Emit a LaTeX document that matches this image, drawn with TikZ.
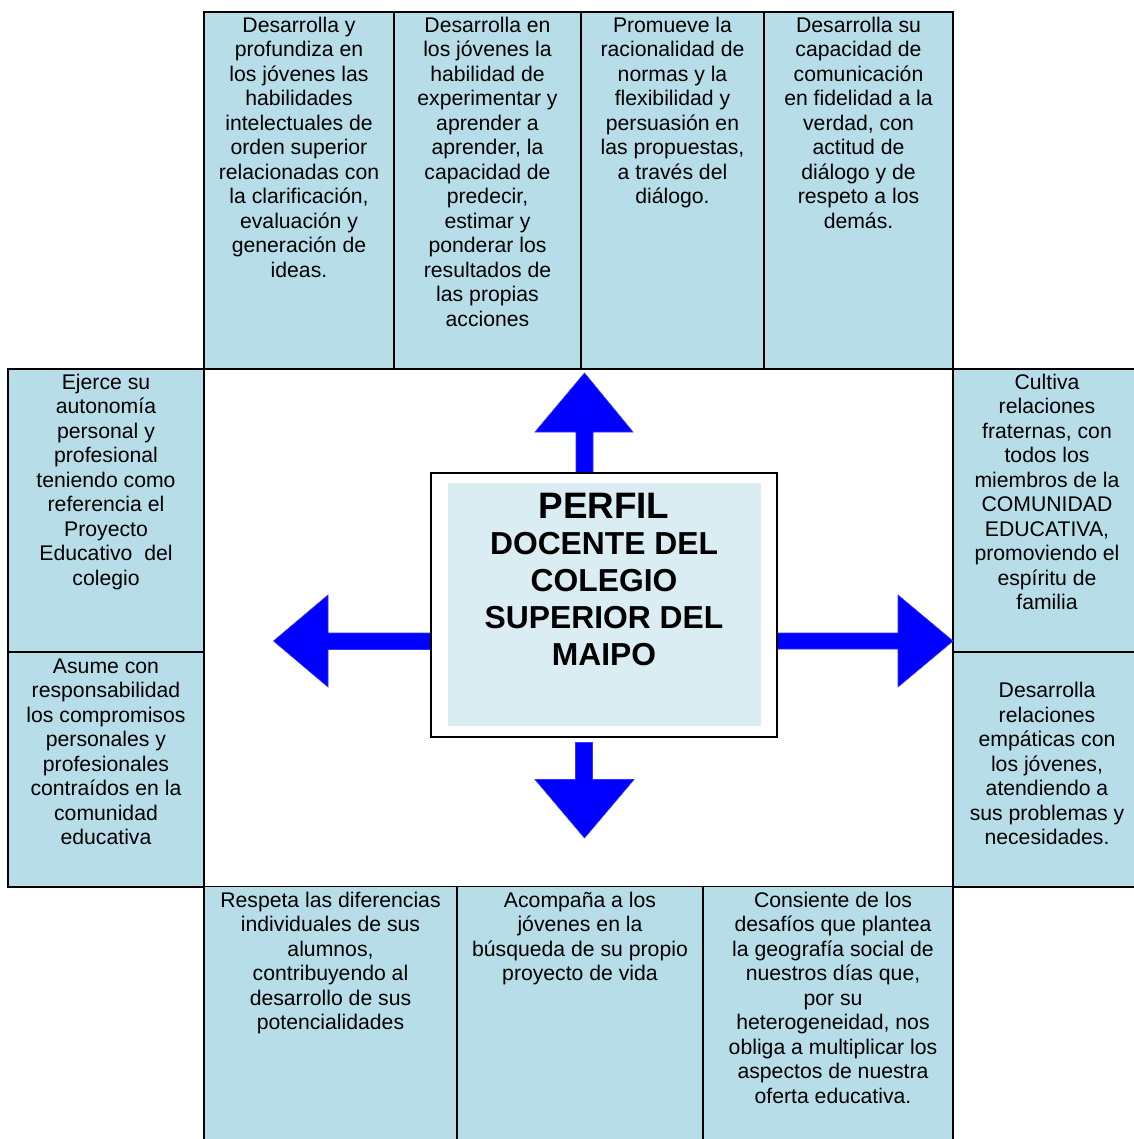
\documentclass[tikz,border=0pt]{standalone}
\usepackage{fontspec}
\setmainfont{Liberation Sans}
\definecolor{cellblue}{HTML}{B7DDE8}
\definecolor{innerblue}{HTML}{DAEDF3}
\definecolor{arrowblue}{HTML}{0000FF}
\newcommand{\firststrut}{\rule{0pt}{17pt}}
\begin{document}
\begin{tikzpicture}[x=1pt,y=-1pt,
  cell/.style={fill=cellblue,draw=black,line width=2pt},
  celltext/.style={anchor=north,align=center,inner sep=0pt,font=\fontsize{21.2}{24.5}\selectfont},
  titletext/.style={anchor=base,align=center,inner sep=0pt,font=\fontsize{31.8}{36.7}\selectfont\bfseries},
  blockarrow/.style={fill=arrowblue,draw=arrowblue!80!white,line width=0.6pt}]
\useasboundingbox (0,0) rectangle (1133,1139);
\fill[white] (0,0) rectangle (1133,1139);
% top row
\draw[cell] (204,12) rectangle (394,369);
\draw[cell] (394,12) rectangle (581,369);
\draw[cell] (581,12) rectangle (764,369);
\draw[cell] (764,12) rectangle (953,369);
% left column
\draw[cell] (8,369) rectangle (204,652);
\draw[cell] (8,652) rectangle (204,887);
% right column
\fill[cellblue] (953,369) rectangle (1140,887);
\draw[line width=2pt] (953,369) -- (1140,369);
\draw[line width=2pt] (953,652) -- (1140,652);
\draw[line width=2pt] (953,887) -- (1140,887);
\draw[line width=2pt] (953,369) -- (953,887);
% middle frame
\draw[line width=2pt] (204,369) -- (953,369);
\draw[line width=2pt] (204,887) -- (953,887);
% bottom row
\fill[cellblue] (204,887) rectangle (953,1145);
\draw[line width=2pt] (204,887) -- (204,1145);
\draw[line width=2pt] (457,887) -- (457,1145);
\draw[line width=2pt] (703,887) -- (703,1145);
\draw[line width=2pt] (953,887) -- (953,1145);

% texts (first baseline = top + 20)
\node[celltext] (t1) at (299,15) {\firststrut Desarrolla y\\profundiza en\\los jóvenes las\\habilidades\\intelectuales de\\orden superior\\relacionadas con\\la clarificación,\\evaluación y\\generación de\\ideas.};
\node[celltext] (t2) at (487.5,15) {\firststrut Desarrolla en\\los jóvenes la\\habilidad de\\experimentar y\\aprender a\\aprender, la\\capacidad de\\predecir,\\estimar y\\ponderar los\\resultados de\\las propias\\acciones};
\node[celltext] (t3) at (672.5,15) {\firststrut Promueve la\\racionalidad de\\normas y la\\flexibilidad y\\persuasión en\\las propuestas,\\a través del\\diálogo.};
\node[celltext] (t4) at (858.5,15) {\firststrut Desarrolla su\\capacidad de\\comunicación\\en fidelidad a la\\verdad, con\\actitud de\\diálogo y de\\respeto a los\\demás.};
\node[celltext] (l1) at (106,372) {\firststrut Ejerce su\\autonomía\\personal y\\profesional\\teniendo como\\referencia el\\Proyecto\\Educativo\ \ del\\colegio};
\node[celltext] (l2) at (106,656) {\firststrut Asume con\\responsabilidad\\los compromisos\\personales y\\profesionales\\contraídos en la\\comunidad\\educativa};
\node[celltext] (r1) at (1047,372) {\firststrut Cultiva\\relaciones\\fraternas, con\\todos los\\miembros de la\\COMUNIDAD\\EDUCATIVA,\\promoviendo el\\espíritu de\\familia};
\node[celltext] (r2) at (1047,680.5) {\firststrut Desarrolla\\relaciones\\empáticas con\\los jóvenes,\\atendiendo a\\sus problemas y\\necesidades.};
\node[celltext] (b1) at (330.5,890) {\firststrut Respeta las diferencias\\individuales de sus\\alumnos,\\contribuyendo al\\desarrollo de sus\\potencialidades};
\node[celltext] (b2) at (580,890) {\firststrut Acompaña a los\\jóvenes en la\\búsqueda de su propio\\proyecto de vida};
\node[celltext] (b3) at (833,890) {\firststrut Consiente de los\\desafíos que plantea\\la geografía social de\\nuestros días que,\\por su\\heterogeneidad, nos\\obliga a multiplicar los\\aspectos de nuestra\\oferta educativa.};

% arrows
\draw[blockarrow] (576,474) -- (576,432) -- (535,432) -- (584.5,373) -- (633,432) -- (593,432) -- (593,474) -- cycle;
\draw[blockarrow] (575.5,742.5) -- (575.5,779.5) -- (535,779.5) -- (584.5,838) -- (634,779.5) -- (592.5,779.5) -- (592.5,742.5) -- cycle;
\draw[blockarrow] (777,633) -- (898,633) -- (898,595) -- (953,641) -- (898,687) -- (898,649) -- (777,649) -- cycle;
\draw[blockarrow] (431,633) -- (328,633) -- (328,595) -- (273.5,641) -- (328,687) -- (328,649.5) -- (431,649.5) -- cycle;

% center box
\node[draw=black,fill=white,line width=1.5pt,minimum width=346pt,minimum height=264pt,inner sep=0pt] (center) at (604,605) {};
\fill[innerblue] (448,483) rectangle (761,726);
\node[titletext,font=\fontsize{36.8}{36.7}\selectfont\bfseries] (title) at (604,518) {PERFIL};
\node[titletext] (sub) at (604,665) {DOCENTE DEL\\COLEGIO\\SUPERIOR DEL\\MAIPO};
\end{tikzpicture}
\end{document}
